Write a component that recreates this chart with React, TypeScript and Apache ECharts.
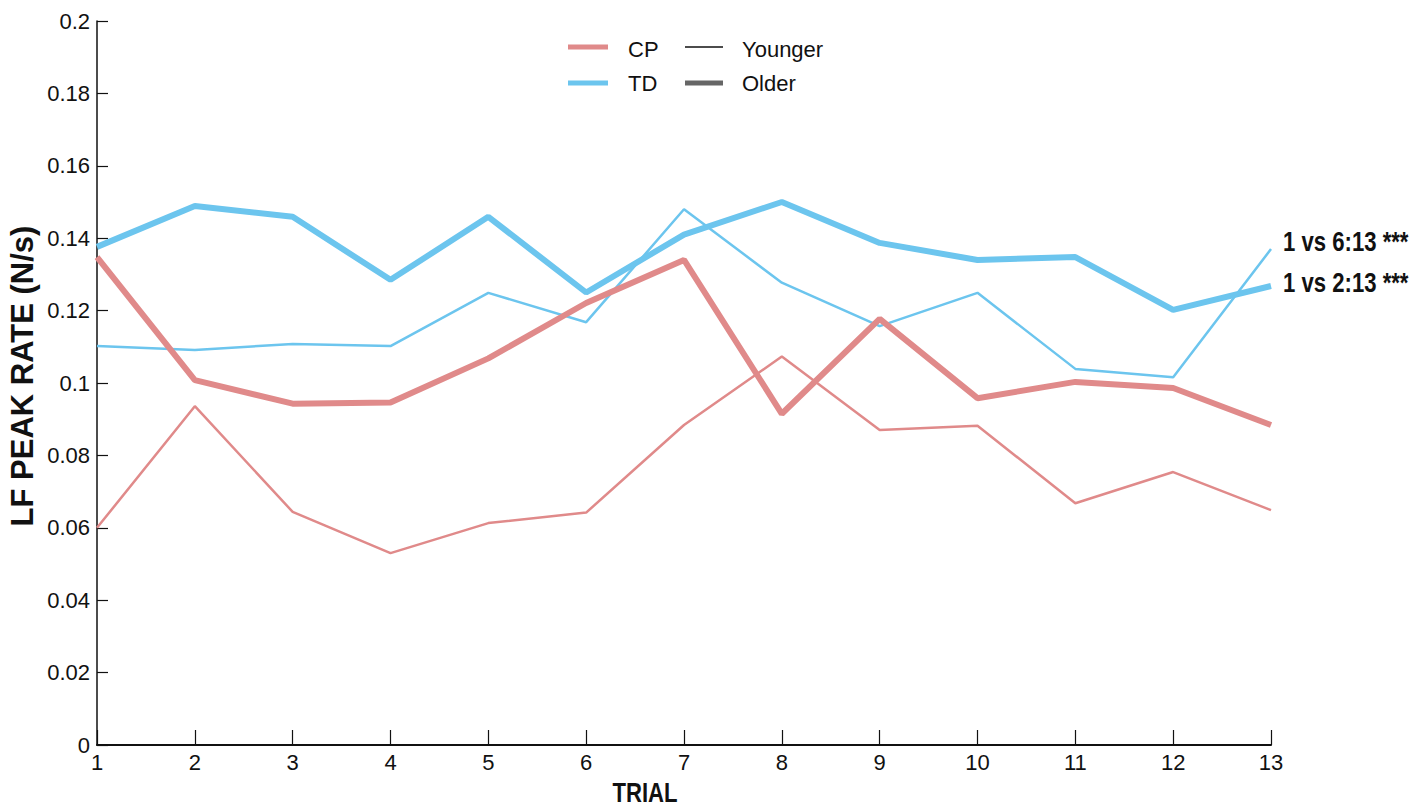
import React, { useEffect, useRef } from "react";
import * as echarts from "echarts";

const trials = [1, 2, 3, 4, 5, 6, 7, 8, 9, 10, 11, 12, 13];
const cpYounger = [0.0600, 0.0936, 0.0644, 0.0530, 0.0613, 0.0642, 0.0884, 0.1073, 0.0870, 0.0882, 0.0668, 0.0754, 0.0649];
const cpOlder = [0.1348, 0.1008, 0.0943, 0.0946, 0.1068, 0.1221, 0.1340, 0.0915, 0.1177, 0.0958, 0.1003, 0.0986, 0.0884];
const tdYounger = [0.1102, 0.1091, 0.1108, 0.1102, 0.1249, 0.1168, 0.1480, 0.1277, 0.1157, 0.1249, 0.1039, 0.1016, 0.1370];
const tdOlder = [0.1376, 0.1489, 0.1459, 0.1285, 0.1459, 0.1250, 0.1410, 0.1500, 0.1387, 0.1340, 0.1348, 0.1202, 0.1268];
const annotations = ["1 vs 6:13 ***", "1 vs 2:13 ***"];

const RED = "#e08a8a";
const BLUE = "#6cc5ee";
const SANS = "'Liberation Sans', Arial, sans-serif";
const NARROW_SCALE = 0.82;

const pairs = (vals: number[]) => trials.map((t, i) => [t, vals[i]]);

export default function App() {
  const ref = useRef<HTMLDivElement>(null);
  useEffect(() => {
    if (!ref.current) return;
    const chart = echarts.init(ref.current, null, { renderer: "svg" });
    const thin = 2.5;
    const thick = 6;
    chart.setOption({
      animation: false,
      backgroundColor: "#ffffff",
      grid: { left: 97, right: 146, top: 21, bottom: 65, containLabel: false, outerBoundsMode: "none" },
      xAxis: {
        type: "value",
        min: 1,
        max: 13,
        interval: 1,
        axisLine: { show: true, lineStyle: { color: "#111", width: 2 } },
        axisTick: { show: true, inside: true, length: 15, lineStyle: { color: "#111", width: 1.2 } },
        axisLabel: { color: "#111", fontSize: 22, fontFamily: SANS, margin: 6 },
        splitLine: { show: false },
      },
      yAxis: {
        type: "value",
        min: 0,
        max: 0.2,
        interval: 0.02,
        axisLine: { show: true, lineStyle: { color: "#111", width: 1.5 } },
        axisTick: { show: true, inside: true, length: 11, lineStyle: { color: "#111", width: 1.2 } },
        axisLabel: {
          color: "#111",
          fontSize: 22,
          fontFamily: SANS,
          margin: 7,
          formatter: (v: number) => String(parseFloat(v.toFixed(2))),
        },
        splitLine: { show: false },
      },
      series: [
        { name: "CP Younger", type: "line", data: pairs(cpYounger), showSymbol: false, lineStyle: { color: RED, width: thin }, itemStyle: { color: RED } },
        { name: "TD Younger", type: "line", data: pairs(tdYounger), showSymbol: false, lineStyle: { color: BLUE, width: thin }, itemStyle: { color: BLUE } },
        { name: "CP Older", type: "line", data: pairs(cpOlder), showSymbol: false, lineStyle: { color: RED, width: thick }, itemStyle: { color: RED } },
        { name: "TD Older", type: "line", data: pairs(tdOlder), showSymbol: false, lineStyle: { color: BLUE, width: thick }, itemStyle: { color: BLUE } },
      ],
      graphic: [
        {
          type: "text",
          x: 22,
          y: 376,
          rotation: Math.PI / 2,
          style: { text: "LF PEAK RATE (N/s)", fontSize: 31, fontWeight: "bold", fontFamily: SANS, fill: "#111", align: "center", verticalAlign: "middle" },
        },
        {
          type: "text",
          x: 645,
          y: 793,
          scaleX: NARROW_SCALE,
          style: { text: "TRIAL", fontSize: 27, fontWeight: "bold", fontFamily: SANS, fill: "#111", align: "center", verticalAlign: "middle" },
        },
        {
          type: "text",
          x: 1283,
          y: 242,
          scaleX: NARROW_SCALE,
          style: { text: annotations[0], fontSize: 27, fontWeight: "bold", fontFamily: SANS, fill: "#111", align: "left", verticalAlign: "middle" },
        },
        {
          type: "text",
          x: 1283,
          y: 283,
          scaleX: NARROW_SCALE,
          style: { text: annotations[1], fontSize: 27, fontWeight: "bold", fontFamily: SANS, fill: "#111", align: "left", verticalAlign: "middle" },
        },
        // legend
        { type: "line", shape: { x1: 568, y1: 47, x2: 608, y2: 47 }, style: { stroke: RED, lineWidth: 5 } },
        { type: "line", shape: { x1: 568, y1: 83, x2: 608, y2: 83 }, style: { stroke: BLUE, lineWidth: 5 } },
        { type: "line", shape: { x1: 685, y1: 47, x2: 723, y2: 47 }, style: { stroke: "#111", lineWidth: 1.5 } },
        { type: "line", shape: { x1: 685, y1: 83, x2: 723, y2: 83 }, style: { stroke: "#666", lineWidth: 5 } },
        { type: "text", x: 628, y: 49, style: { text: "CP", fontSize: 22, fontFamily: SANS, fill: "#111", align: "left", verticalAlign: "middle" } },
        { type: "text", x: 628, y: 83, style: { text: "TD", fontSize: 22, fontFamily: SANS, fill: "#111", align: "left", verticalAlign: "middle" } },
        { type: "text", x: 742, y: 49, style: { text: "Younger", fontSize: 22, fontFamily: SANS, fill: "#111", align: "left", verticalAlign: "middle" } },
        { type: "text", x: 742, y: 83, style: { text: "Older", fontSize: 22, fontFamily: SANS, fill: "#111", align: "left", verticalAlign: "middle" } },
      ],
    });
    return () => chart.dispose();
  }, []);
  return <div ref={ref} style={{ position: "fixed", left: 0, top: 0, width: 1417, height: 810 }} />;
}
